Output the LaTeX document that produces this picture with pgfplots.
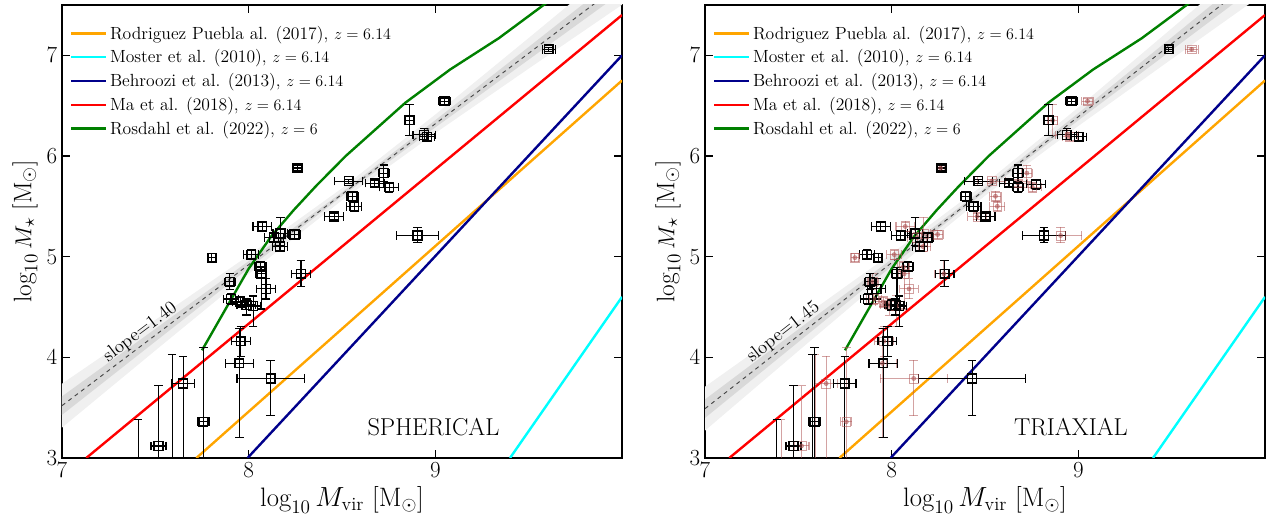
\documentclass[border=0pt]{standalone}
\usepackage{fontspec}
\usepackage{pgfplots}
\usepackage{pgfplotstable}
\pgfplotsset{compat=1.18}

\definecolor{cOrange}{RGB}{255,165,0}
\definecolor{cCyan}{RGB}{0,255,255}
\definecolor{cBlue}{RGB}{0,0,139}
\definecolor{cRed}{RGB}{255,0,0}
\definecolor{cGreen}{RGB}{0,128,0}
\definecolor{cPale}{RGB}{175,85,85}

% spherical halo masses
\pgfplotstableread{
x y ex eym eyp
9.607 7.06 0.035 0.02 0.02
9.049 6.544 0.03 0.03 0.03
8.862 6.354 0.025 0.15 0.16
8.940 6.21 0.06 0.05 0.06
8.955 6.19 0.04 0.04 0.04
8.262 5.88 0.02 0.03 0.03
8.724 5.83 0.03 0.08 0.08
8.536 5.75 0.075 0.02 0.02
8.675 5.73 0.05 0.03 0.03
8.753 5.69 0.05 0.05 0.05
8.556 5.60 0.03 0.05 0.05
8.566 5.50 0.04 0.05 0.05
8.458 5.40 0.05 0.03 0.03
8.073 5.30 0.05 0.05 0.05
8.170 5.23 0.04 0.12 0.16
8.246 5.22 0.03 0.04 0.04
8.136 5.19 0.05 0.05 0.05
8.168 5.10 0.04 0.05 0.05
8.905 5.21 0.113 0.07 0.08
7.803 4.99 0.02 0.04 0.04
8.014 5.02 0.04 0.05 0.05
8.063 4.90 0.03 0.05 0.05
8.067 4.83 0.03 0.35 0.06
8.280 4.83 0.05 0.13 0.13
7.899 4.75 0.03 0.08 0.08
8.093 4.68 0.05 0.10 0.10
7.905 4.58 0.04 0.05 0.05
7.955 4.55 0.04 0.05 0.05
7.988 4.52 0.05 0.10 0.06
8.024 4.51 0.04 0.20 0.10
7.958 4.16 0.05 0.15 0.15
7.950 3.94 0.074 0.74 0.35
8.118 3.79 0.18 0.37 0.18
7.649 3.74 0.06 1.00 0.27
7.757 3.36 0.03 0.60 0.74
7.517 3.12 0.04 0.50 0.60
7.408 2.90 0.00 0.50 0.48
7.590 2.90 0.00 0.50 1.13
}\sph

% triaxial halo masses
\pgfplotstableread{
x y ex eym eyp
9.485 7.06 0.02 0.02 0.02
8.963 6.544 0.03 0.03 0.03
8.840 6.354 0.025 0.15 0.16
8.938 6.21 0.05 0.05 0.06
9.002 6.19 0.04 0.04 0.04
8.267 5.88 0.02 0.03 0.03
8.677 5.83 0.03 0.08 0.08
8.464 5.75 0.075 0.02 0.02
8.629 5.73 0.05 0.03 0.03
8.774 5.72 0.05 0.05 0.05
8.677 5.69 0.03 0.05 0.05
8.397 5.60 0.03 0.05 0.05
8.439 5.50 0.04 0.05 0.05
8.503 5.40 0.05 0.03 0.03
7.942 5.30 0.05 0.05 0.05
8.126 5.23 0.04 0.12 0.16
8.193 5.19 0.03 0.04 0.04
8.048 5.21 0.05 0.05 0.05
8.151 5.10 0.04 0.05 0.05
8.816 5.21 0.115 0.07 0.08
7.928 4.99 0.02 0.04 0.04
7.868 5.02 0.04 0.05 0.05
8.087 4.90 0.03 0.05 0.05
8.029 4.83 0.03 0.35 0.06
8.284 4.83 0.05 0.13 0.13
7.884 4.75 0.03 0.08 0.08
7.919 4.68 0.05 0.10 0.10
7.874 4.58 0.04 0.05 0.05
8.000 4.52 0.04 0.05 0.05
8.020 4.52 0.05 0.10 0.06
8.040 4.51 0.04 0.20 0.10
7.977 4.16 0.05 0.15 0.15
7.955 3.94 0.077 0.74 0.35
8.431 3.79 0.286 0.37 0.18
7.749 3.74 0.06 1.00 0.27
7.586 3.36 0.03 0.60 0.74
7.474 3.12 0.04 0.50 0.60
7.385 2.90 0.00 0.50 0.48
7.575 2.90 0.00 0.50 1.13
}\tri

\pgfplotsset{
  panel/.style={
    scale only axis, width=420pt, height=339.75pt,
    xmin=7, xmax=10, ymin=3, ymax=7.5,
    xtick={7,8,9}, ytick={3,4,5,6,7},
    minor tick num=0,
    tick align=inside, major tick length=6pt,
    every tick/.style={black, line width=0.8pt},
    axis line style={line width=0.9pt},
    tick label style={font=\fontsize{17}{17}\selectfont},
    xlabel style={font=\fontsize{20}{20}\selectfont},
    ylabel style={font=\fontsize{19}{19}\selectfont},
    xlabel={$\log_{10} M_{\rm vir}$ [M$_\odot$]},
    ylabel={$\log_{10} M_\star$ [M$_\odot$]},
    legend style={draw=none, fill=none, at={(0,1)}, anchor=north west,
      xshift=4pt, yshift=-11.5pt,
      font=\fontsize{13.2}{14}\selectfont, row sep=2.4pt, inner sep=2pt},
    legend cell align=left,
    legend image code/.code={\draw[#1] (0pt,0pt) -- (26pt,0pt);},
  },
  model/.style={line width=1.8pt},
  blk/.style={black, mark=square, mark size=3.3pt, line width=0.9pt, only marks,
    mark options={line width=1.1pt},
    error bars/.cd, x dir=both, x explicit, y dir=both, y explicit,
    error bar style={line width=0.9pt},
    error mark options={rotate=90, mark size=3.2pt, line width=0.9pt}},
  pale/.style={cPale, opacity=0.55, mark=*, mark size=1.6pt, only marks,
    error bars/.cd, x dir=both, x explicit, y dir=both, y explicit,
    error bar style={line width=0.8pt},
    error mark options={rotate=90, mark size=3.2pt, line width=0.8pt}},
}

\newcommand{\modellines}{%
  \addplot[model, cOrange] coordinates {(7.72,3) (10,6.75)};
  \addlegendentry{Rodriguez Puebla al. (2017), $z=6.14$}
  \addplot[model, cCyan] coordinates {(9.40,3) (10,4.60)};
  \addlegendentry{Moster et al. (2010), $z=6.14$}
  \addplot[model, cBlue] coordinates {(7.994,3) (10,7.0)};
  \addlegendentry{Behroozi et al. (2013), $z=6.14$}
  \addplot[model, cRed] coordinates {(7.13,3) (10,7.40)};
  \addlegendentry{Ma et al. (2018), $z=6.14$}
  \addplot[model, cGreen] coordinates {(7.75,4.07) (8.0,4.88) (8.12,5.2) (8.24,5.46) (8.36,5.70) (8.52,6.0) (8.84,6.53) (9.08,6.86) (9.34,7.17) (9.58,7.5) (9.8,7.8)};
  \addlegendentry{Rosdahl et al. (2022), $z=6$}
}

\begin{document}
\begin{tikzpicture}
\useasboundingbox (0pt,0pt) rectangle (952.5pt,392.25pt);

% ---------------- left: spherical
\begin{axis}[panel, at={(46.5pt,48.75pt)}, anchor=south west]
  \addplot[draw=none, fill=gray!12, forget plot] coordinates {
    (7,3.738) (7.5,4.372) (8,5.012) (8.5,5.68) (9,6.412) (9.5,7.172) (10,7.938)
    (10,7.502) (9.5,6.868) (9,6.228) (8.5,5.56) (8,4.828) (7.5,4.068) (7,3.302)} -- cycle;
  \addplot[draw=none, fill=gray!30, forget plot] coordinates {
    (7,3.612) (7.5,4.283) (8,4.956) (8.5,5.64) (9,6.356) (9.5,7.083) (10,7.812)
    (10,7.628) (9.5,6.957) (9,6.284) (8.5,5.60) (8,4.884) (7.5,4.157) (7,3.428)} -- cycle;
  \addplot[gray!55!black, dashed, line width=0.7pt, forget plot] coordinates {(7,3.52) (10,7.72)};
  \modellines
  \addplot[forget plot, blk] table[x=x, y=y, x error=ex, y error minus=eym, y error plus=eyp] {\sph};
  \node[rotate=37, font=\fontsize{14}{14}\selectfont] at (7.42,4.25) {slope=1.40};
  \node[font=\fontsize{18.3}{18.3}\selectfont] at (8.99,3.31) {SPHERICAL};
\end{axis}

% ---------------- right: triaxial
\begin{axis}[panel, at={(528.75pt,48.75pt)}, anchor=south west]
  \addplot[draw=none, fill=gray!12, forget plot] coordinates {
    (7,3.708) (7.5,4.367) (8,5.032) (8.5,5.725) (9,6.482) (9.5,7.267) (10,8.058)
    (10,7.622) (9.5,6.963) (9,6.298) (8.5,5.605) (8,4.848) (7.5,4.063) (7,3.272)} -- cycle;
  \addplot[draw=none, fill=gray!30, forget plot] coordinates {
    (7,3.582) (7.5,4.278) (8,4.976) (8.5,5.685) (9,6.426) (9.5,7.178) (10,7.932)
    (10,7.748) (9.5,7.052) (9,6.354) (8.5,5.645) (8,4.904) (7.5,4.152) (7,3.398)} -- cycle;
  \addplot[gray!55!black, dashed, line width=0.7pt, forget plot] coordinates {(7,3.49) (10,7.84)};
  \modellines
  \addplot[forget plot, pale] table[x=x, y=y, x error=ex, y error minus=eym, y error plus=eyp] {\sph};
  \addplot[cPale, opacity=0.55, only marks, mark=square, mark size=3.3pt, forget plot] table[x=x, y=y] {\sph};
  \addplot[forget plot, blk] table[x=x, y=y, x error=ex, y error minus=eym, y error plus=eyp] {\tri};
  \node[rotate=38, font=\fontsize{14}{14}\selectfont] at (7.42,4.25) {slope=1.45};
  \node[font=\fontsize{18.3}{18.3}\selectfont] at (8.96,3.31) {TRIAXIAL};
\end{axis}
\end{tikzpicture}
\end{document}
